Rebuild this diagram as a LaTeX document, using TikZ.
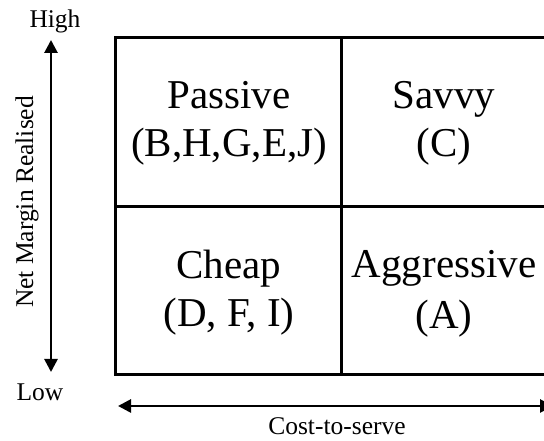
\documentclass[tikz,border=0pt]{standalone}
\usepackage{fontspec}
\setmainfont{Liberation Serif}
\usetikzlibrary{arrows.meta}
\begin{document}
\begin{tikzpicture}[x=1pt,y=1pt,
  big/.style={font=\fontsize{41}{49}\selectfont, inner sep=0pt, anchor=base},
  small/.style={font=\fontsize{25.5}{30}\selectfont, inner sep=0pt, anchor=base},
  frame/.style={line width=3pt},
  axis/.style={line width=2.7pt, {Triangle[length=13pt,width=13pt]}-{Triangle[length=13pt,width=13pt]}}]
\useasboundingbox (0,0) rectangle (544,441);
\clip (0,0) rectangle (544,441);
% matrix frame
\draw[frame] (115.7,66) rectangle (547,403);
\draw[frame] (341.7,66) -- (341.7,403);
\draw[frame] (115.7,234.3) -- (547,234.3);
% cell texts
\node[big] (passive) at (229,332) {Passive};
\node[big] (passiveM) at (229,284) {(B,H,G,E,J)};
\node[big] (savvy) at (444,332) {Savvy};
\node[big] (savvyM) at (444,284) {(C)};
\node[big] (cheap) at (229,162) {Cheap};
\node[big] (cheapM) at (229,114) {(D, F, I)};
\node[big] (aggr) at (444,163) {Aggressive};
\node[big] (aggrM) at (444,112) {(A)};
% axes
\node[small] (high) at (55,413) {High};
\node[small] (low) at (40,40) {Low};
\node[small, rotate=90] (ylab) at (33,239) {Net Margin Realised};
\node[small] (xlab) at (337,6) {Cost-to-serve};
\coordinate (ybot) at (51,69);
\coordinate (ytop) at (51,401);
\coordinate (xleft) at (118,35);
\coordinate (xright) at (553,35);
\draw[axis] (ybot) -- (ytop);
\draw[axis] (xleft) -- (xright);
\end{tikzpicture}
\end{document}
